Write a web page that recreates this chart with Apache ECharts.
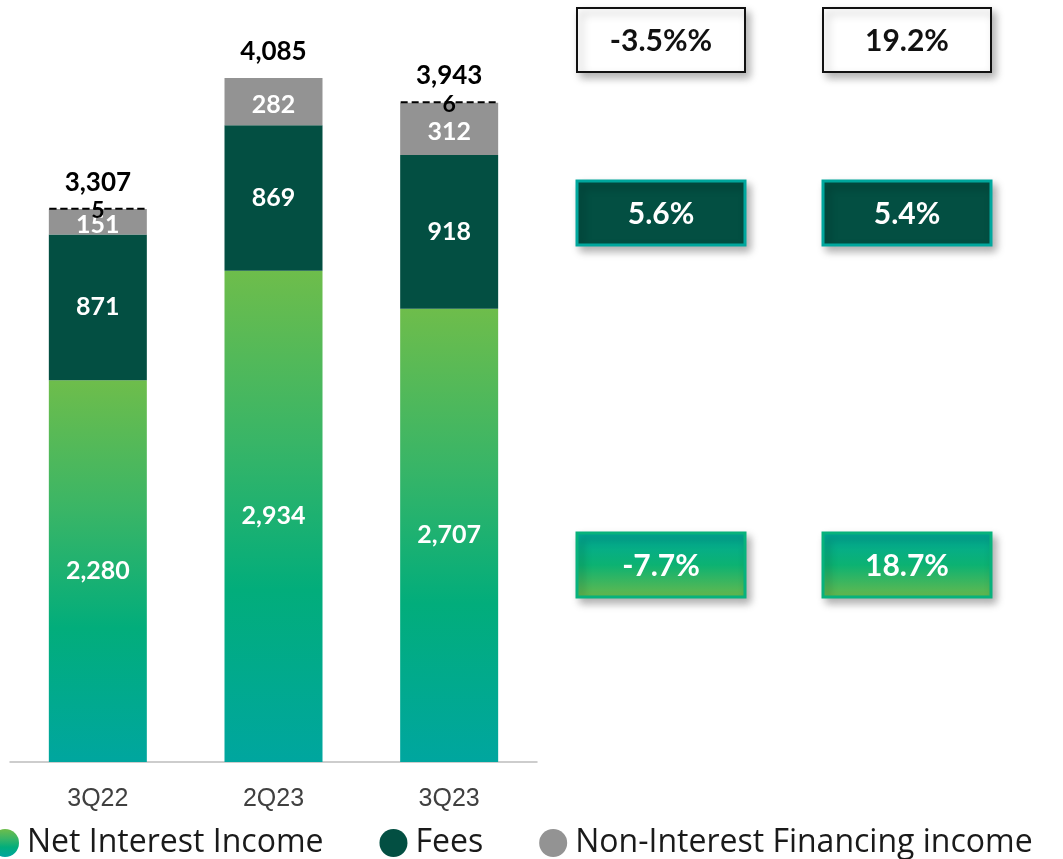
<!DOCTYPE html>
<html>
<head>
<meta charset="utf-8">
<script src="https://cdn.jsdelivr.net/npm/echarts@6/dist/echarts.min.js"></script>
<style>
  html, body { margin: 0; padding: 0; background: #fff; }
  #chart { width: 1063px; height: 859px; }
</style>
</head>
<body>
<div id="chart"></div>
<script>
// data
const categories = ['3Q22', '2Q23', '3Q23']
const netInterestIncome = [2280, 2934, 2707]
const fees = [871, 869, 918]
const nonInterestFinancing = [151, 282, 312]
const otherIncome = [5, null, 6]
const totals = categories.map((c, i) =>
  netInterestIncome[i] + fees[i] + nonInterestFinancing[i] + (otherIncome[i] || 0))

// boxes on the right: [text, row]
const growthLabels = [
  ['-3.5%%', 0], ['19.2%', 0],
  ['5.6%', 1], ['5.4%', 1],
  ['-7.7%', 2], ['18.7%', 2],
]

const chart = echarts.init(document.getElementById('chart'))

const niiColor = new echarts.graphic.LinearGradient(0, 0, 0, 1, [
  { offset: 0, color: '#6ebd4b' },
  { offset: 0.35, color: '#38b567' },
  { offset: 0.65, color: '#02ad7b' },
  { offset: 1, color: '#00a69f' },
])
const boxGreen = new echarts.graphic.LinearGradient(0, 0, 0, 1, [
  { offset: 0, color: '#00a99b' },
  { offset: 0.5, color: '#0cb272' },
  { offset: 1, color: '#6ab94c' },
])

const boxStyles = [
  { fill: '#fff', stroke: '#111', lineWidth: 2, textColor: '#111' },
  { fill: '#034f42', stroke: '#00a79d', lineWidth: 3, textColor: '#fff' },
  { fill: boxGreen, stroke: '#07b27c', lineWidth: 3, textColor: '#fff' },
]
const rowY = [8, 181, 533]
const colX = [577, 823]

const graphics = growthLabels.map(([txt, row], i) => {
  const s = boxStyles[row]
  const x = colX[i % 2]
  const y = rowY[row]
  return {
    type: 'group',
    children: [
      {
        type: 'rect',
        shape: { x: x, y: y, width: 168, height: 64 },
        style: {
          fill: s.fill, stroke: s.stroke, lineWidth: s.lineWidth,
          shadowBlur: 8, shadowOffsetX: 4, shadowOffsetY: 5, shadowColor: 'rgba(0,0,0,0.3)',
        },
      },
      {
        type: 'text',
        x: x + 84,
        y: y + 33,
        style: {
          text: txt, fill: s.textColor, font: 'bold 30px Lato, sans-serif',
          align: 'center', verticalAlign: 'middle',
        },
      },
    ],
  }
})

const segLabel = {
  show: true,
  position: 'inside',
  color: '#fff',
  fontFamily: 'Lato, sans-serif',
  fontWeight: 'bold',
  fontSize: 25,
  formatter: (p) => p.value.toLocaleString('en-US'),
}

const option = {
  animation: false,
  grid: { left: 10, right: 526, top: 78, bottom: 97 },
  legend: {
    data: ['Net Interest Income', 'Fees', 'Non-Interest Financing income'],
    left: -14,
    top: 822,
    icon: 'circle',
    itemWidth: 28,
    itemHeight: 31,
    itemGap: 56,
    textStyle: {
      fontFamily: '"Open Sans", sans-serif',
      fontSize: 32,
      color: '#1a1a1a',
      padding: [0, 0, 0, 3],
    },
  },
  xAxis: {
    type: 'category',
    data: categories,
    axisLine: { lineStyle: { color: '#bdbdbd', width: 1.5 } },
    axisTick: { show: false },
    axisLabel: {
      margin: 25,
      color: '#404040',
      fontFamily: '"Liberation Sans Narrow", "Liberation Sans", sans-serif',
      fontSize: 25,
    },
  },
  yAxis: {
    type: 'value',
    min: 0,
    max: 4085,
    show: false,
    splitLine: { show: false },
  },
  series: [
    {
      name: 'Net Interest Income',
      type: 'bar',
      stack: 'total',
      barWidth: 98,
      data: netInterestIncome,
      itemStyle: { color: niiColor },
      label: segLabel,
    },
    {
      name: 'Fees',
      type: 'bar',
      stack: 'total',
      data: fees,
      itemStyle: { color: '#034f42' },
      label: segLabel,
    },
    {
      name: 'Non-Interest Financing income',
      type: 'bar',
      stack: 'total',
      data: nonInterestFinancing,
      itemStyle: { color: '#939393' },
      label: Object.assign({}, segLabel, { offset: [0, 3] }),
    },
    {
      name: 'Other',
      type: 'bar',
      stack: 'total',
      data: otherIncome,
      itemStyle: {
        color: 'transparent',
        borderColor: '#000',
        borderWidth: 2,
        borderType: [7, 4],
      },
      label: {
        show: true,
        position: 'inside',
        offset: [0, 2],
        color: '#000',
        fontFamily: 'Lato, sans-serif',
        fontWeight: 'bold',
        fontSize: 23,
      },
    },
    {
      name: 'Total',
      type: 'scatter',
      symbolSize: 0,
      data: totals,
      itemStyle: { opacity: 1 },
      label: {
        show: true,
        position: 'top',
        distance: 13,
        color: '#000',
        fontFamily: 'Lato, sans-serif',
        fontWeight: 'bold',
        fontSize: 26,
        formatter: (p) => p.value.toLocaleString('en-US'),
      },
    },
  ],
  graphic: graphics,
}

chart.setOption(option)
</script>
</body>
</html>
